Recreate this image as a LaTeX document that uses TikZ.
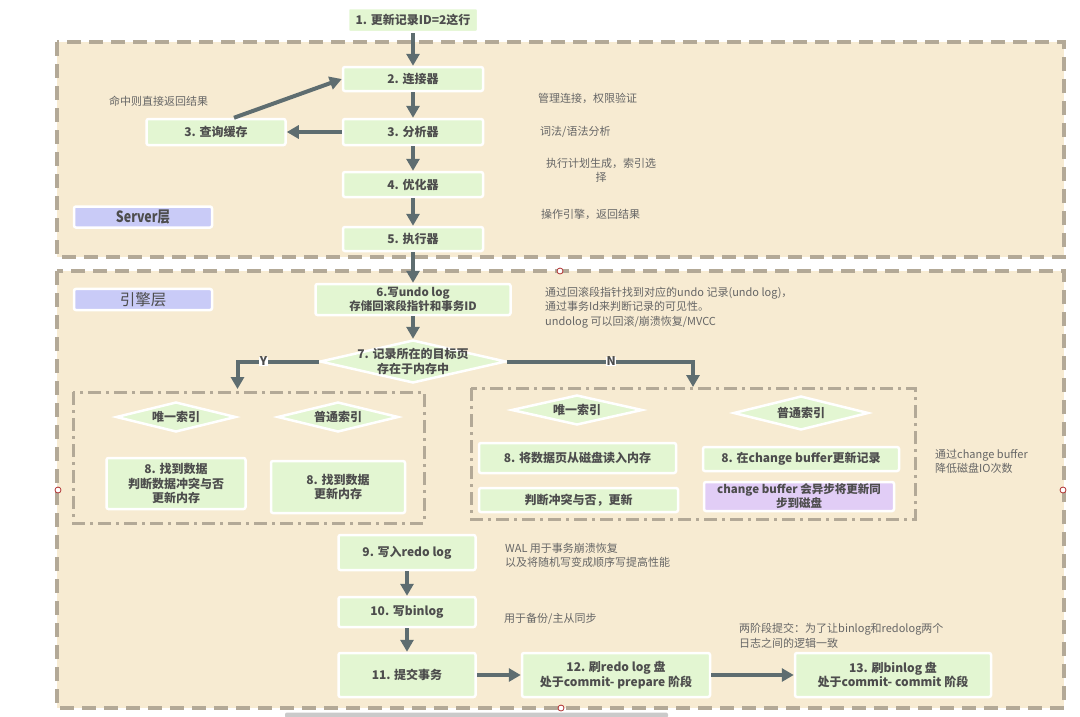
\documentclass[tikz,border=0pt]{standalone}
\usepackage{fontspec}
\setmainfont{Noto Sans CJK SC}
\newfontfamily\layerfont{Noto Sans CJK SC}[FakeStretch=0.8]
\usetikzlibrary{arrows.meta,shapes.geometric}

\definecolor{layerfill}{HTML}{F7EBD2}
\definecolor{layerline}{HTML}{B3A997}
\definecolor{stepfill}{HTML}{E3F6D2}
\definecolor{tagfill}{HTML}{C9CBF7}
\definecolor{asyncfill}{HTML}{E1CDF6}
\definecolor{flowgray}{HTML}{5E6D70}
\definecolor{steptext}{HTML}{4D4D4D}
\definecolor{notetext}{HTML}{666666}
\definecolor{gripred}{HTML}{B03030}
\definecolor{barfill}{HTML}{CACACA}

\begin{document}
\begin{tikzpicture}[x=1pt, y=-1pt,
  layer/.style={fill=layerfill, draw=layerline, line width=3.5pt, dash pattern=on 14pt off 8pt},
  group/.style={draw=layerline, line width=3pt, dash pattern=on 13pt off 5pt on 3pt off 5pt},
  stepbox/.style={rectangle, fill=stepfill, draw=white, line width=2.5pt, rounded corners=2pt,
    inner sep=0pt, align=center, text=steptext, font=\bfseries\fontsize{12}{14.5}\selectfont},
  choice/.style={diamond, fill=stepfill, draw=white, line width=2.5pt, inner sep=0pt},
  steplabel/.style={align=center, text=steptext, font=\bfseries\fontsize{12}{14.5}\selectfont},
  tag/.style={fill=tagfill, draw=white, line width=2.5pt, rounded corners=2pt,
    minimum width=138pt, minimum height=21pt, text=steptext},
  note/.style={text=notetext, align=left, inner sep=0pt, font=\fontsize{11}{14.5}\selectfont},
  flow/.style={draw=flowgray, line width=4pt, -{Triangle[width=13pt,length=12pt]}},
  yn/.style={fill=white, inner sep=0.5pt, text=steptext, font=\bfseries\fontsize{12}{12}\selectfont},
  grip/.style={draw=gripred, fill=white, line width=0.8pt}
]

\useasboundingbox (0,0) rectangle (1080,716);

% Layers
\draw[layer] (57,42) rectangle (1064,257);
\draw[layer] (57,271) rectangle (1064,708);
\draw[group] (73,392) rectangle (424,523);
\draw[group] (471,388) rectangle (915,519);

\node[tag, font=\layerfont\bfseries\fontsize{15.5}{15.5}\selectfont] (server) at (143,217) {Server层};
\node[tag, font=\fontsize{15.5}{15.5}\selectfont] (engine) at (143,299.5) {引擎层};

% Server steps
\node[stepbox, minimum width=130pt, minimum height=24pt] (update) at (413,20) {1. 更新记录ID=2这行};
\node[stepbox, minimum width=140pt, minimum height=24pt] (conn) at (413,79) {2. 连接器};
\node[stepbox, minimum width=140pt, minimum height=26pt] (parser) at (413,132) {3. 分析器};
\node[stepbox, minimum width=139pt, minimum height=26pt] (cache) at (216,132) {3. 查询缓存};
\node[stepbox, minimum width=140pt, minimum height=25pt] (optim) at (413,184.5) {4. 优化器};
\node[stepbox, minimum width=140pt, minimum height=24pt] (exec) at (413,239) {5. 执行器};

% Engine steps
\node[stepbox, minimum width=195pt, minimum height=31pt, font=\bfseries\fontsize{11.5}{14.3}\selectfont]
  (undo) at (413,299.5) {6.写undo log\\存储回滚段指针和事务ID};
\node[choice, minimum width=186pt, minimum height=43pt,
  label={[steplabel]center:{7. 记录所在的目标页\\存在于内存中}}] (inmem) at (413,361.5) {};

\node[choice, minimum width=120pt, minimum height=30pt, label={[steplabel]center:唯一索引}] (uniqhit) at (176,417) {};
\node[choice, minimum width=121pt, minimum height=30pt, label={[steplabel]center:普通索引}] (normhit) at (338,417) {};
\node[stepbox, minimum width=139pt, minimum height=51pt] (findhit) at (176,483.5) {8. 找到数据\\判断数据冲突与否\\更新内存};
\node[stepbox, minimum width=134pt, minimum height=52pt] (findnorm) at (338,487) {8. 找到数据\\更新内存};

\node[choice, minimum width=131pt, minimum height=30pt, label={[steplabel]center:唯一索引}] (uniqmiss) at (577,410) {};
\node[choice, minimum width=135pt, minimum height=34pt, label={[steplabel]center:普通索引}] (normmiss) at (801,413) {};
\node[stepbox, minimum width=197pt, minimum height=30pt] (readpage) at (577.5,458) {8. 将数据页从磁盘读入内存};
\node[stepbox, minimum width=199pt, minimum height=24pt] (judge) at (578.5,500) {判断冲突与否，更新};
\node[stepbox, minimum width=196pt, minimum height=24pt] (cbuf) at (801,459) {8. 在change buffer更新记录};
\node[stepbox, fill=asyncfill, minimum width=190pt, minimum height=29pt, font=\bfseries\fontsize{11.5}{14}\selectfont]
  (cbsync) at (799,496.5) {change buffer 会异步将更新同\\步到磁盘};

\node[stepbox, minimum width=137pt, minimum height=35pt] (redo) at (407,552.5) {9. 写入redo log};
\node[stepbox, minimum width=137pt, minimum height=30pt] (binlog) at (407,612) {10. 写binlog};
\node[stepbox, minimum width=137pt, minimum height=44pt] (commit) at (407,675) {11. 提交事务};
\node[stepbox, minimum width=188pt, minimum height=44pt] (prepare) at (616,675) {12. 刷redo log 盘\\处于commit- prepare 阶段};
\node[stepbox, minimum width=196pt, minimum height=44pt] (final) at (893,675) {13. 刷binlog 盘\\处于commit- commit 阶段};

% Notes
\node[note, anchor=west] (hitnote) at (109,101) {命中则直接返回结果};
\node[note, anchor=west] (connnote) at (538,98) {管理连接，权限验证};
\node[note, anchor=west] (parsenote) at (540,132) {词法/语法分析};
\node[note, align=center] (optnote) at (601,170.5) {执行计划生成，索引选\\择};
\node[note, anchor=west] (execnote) at (541,214) {操作引擎，返回结果};
\node[note, anchor=west] (undonote) at (545,307.5) {通过回滚段指针找到对应的undo 记录(undo log)，\\通过事务Id来判断记录的可见性。\\undolog 可以回滚/崩溃恢复/MVCC};
\node[note, anchor=west] (cbnote) at (935,461.5) {通过change buffer\\降低磁盘IO次数};
\node[note, anchor=west] (walnote) at (505,555.5) {WAL 用于事务崩溃恢复\\以及将随机写变成顺序写提高性能};
\node[note, anchor=west] (binnote) at (504,619) {用于备份/主从同步};
\node[note, anchor=west] (twopcnote) at (739,636) {两阶段提交：为了让binlog和redolog两个\\日志之间的逻辑一致};

% Flow
\coordinate (yestip) at (237.5,389);
\coordinate (notip) at (693,387);
\draw[flow] (update) -- (conn);
\draw[flow] (conn) -- (parser);
\draw[flow] (parser) -- (optim);
\draw[flow] (optim) -- (exec);
\draw[flow] (exec) -- (undo);
\draw[flow] (parser) -- (cache);
\draw[flow] ([xshift=18pt]cache.north) -- (conn.west);
\draw[flow] (undo) -- (inmem);
\draw[flow] (inmem.west) -| node[yn, pos=0.34] (yesmark) {Y} (yestip);
\draw[flow] (inmem.east) -| node[yn, pos=0.28] (nomark) {N} (notip);
\draw[flow] (redo) -- (binlog);
\draw[flow] (binlog) -- (commit);
\draw[flow] (commit) -- (prepare);
\draw[flow] (prepare) -- (final);

% Handles
\draw[grip] (560,271) circle (3pt);
\draw[grip] (58,490) circle (3pt);
\draw[grip] (1063,490) circle (3pt);
\draw[grip] (561,708) circle (3pt);
\fill[barfill, rounded corners=2pt] (285,712.5) rectangle (668,718);

\end{tikzpicture}
\end{document}
